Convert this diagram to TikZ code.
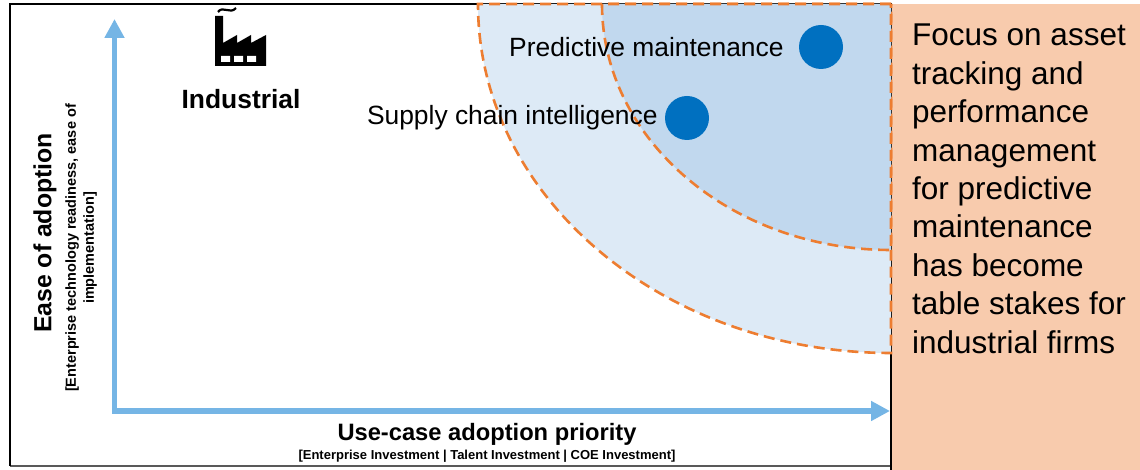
\documentclass[tikz,border=0pt]{standalone}
\usepackage{fontspec}
\setmainfont{Liberation Sans}
\usetikzlibrary{arrows.meta}
\usetikzlibrary{positioning}
\definecolor{axisblue}{RGB}{117,181,229}
\definecolor{dashorange}{RGB}{237,125,49}
\definecolor{outerzone}{RGB}{221,234,246}
\definecolor{innerzone}{RGB}{193,216,238}
\definecolor{dotblue}{RGB}{0,112,192}
\definecolor{panelorange}{RGB}{248,203,173}

\begin{document}
\begin{tikzpicture}[x=1pt,y=1pt,
  zone/.style={draw=dashorange,line width=2.6pt,dash pattern=on 11pt off 6pt},
  usecase/.style={circle,fill=dotblue,minimum size=44pt,inner sep=0pt},
  caselabel/.style={inner sep=0pt,font=\fontsize{26.4}{30}\selectfont},
  axis/.style={draw=axisblue,line width=5.5pt,line join=miter,{Triangle[length=19pt,width=19pt]}-{Triangle[length=19pt,width=19pt]}}]
  \useasboundingbox (0,0) rectangle (1140,470);
  %panel
  \fill[panelorange] (891,0) rectangle (1140,466);
  %frame
  \draw[line width=1.5pt,gray!70!black] (10,4) -- (891,4);
  \draw[line width=1.8pt] (10,4) -- (10,466) -- (891,466) -- (891,0);
  %zones
  \path[zone,fill=outerzone] (891,466) -- (478,466) arc[start angle=180,end angle=270,x radius=413,y radius=349] -- cycle;
  \path[zone,fill=innerzone] (891,466) -- (602,466) arc[start angle=180,end angle=270,x radius=289,y radius=246] -- cycle;
  %use cases
  \node[usecase] (pmdot) at (821,423) {};
  \node[caselabel,left=15pt of pmdot] (pmlabel) {Predictive maintenance};
  \node[usecase] (scdot) at (687,352) {};
  \node[caselabel,left=7pt of scdot] (sclabel) {Supply chain intelligence};
  %factory
  \fill (215,404) -- (215,454) -- (223,454) -- (223,427) -- (237,435) -- (237,427) -- (251,435) -- (251,427) -- (266,435) -- (266,404) -- cycle;
  \fill[white] (221,408) rectangle (230,414) (234,408) rectangle (243,414) (247,408) rectangle (256,414);
  \draw[line width=2.2pt] (218,458) .. controls (223,465) and (230,455) .. (236,462);
  \node[inner sep=0pt,font=\bfseries\fontsize{26.4}{30}\selectfont] (industrial) at (241,371) {Industrial};
  %axes
  \coordinate (origin) at (114.5,59);
  \coordinate (ytip) at (114.5,451);
  \coordinate (xtip) at (890,59);
  \draw[axis] (ytip) -- (origin) -- (xtip);
  \node[rotate=90,inner sep=0pt,font=\bfseries\fontsize{24.8}{28}\selectfont] (ylabel) at (45,237) {Ease of adoption};
  \node[rotate=90,inner sep=0pt,align=center,font=\bfseries\fontsize{14.5}{18}\selectfont] (ysub) at (81,222) {[Enterprise technology readiness, ease of\\implementation]};
  \node[inner sep=0pt,font=\bfseries\fontsize{23.7}{28}\selectfont] (xlabel) at (487,36) {Use-case adoption priority};
  \node[inner sep=0pt,font=\bfseries\fontsize{13}{16}\selectfont] (xsub) at (487,14) {[Enterprise Investment | Talent Investment | COE Investment]};
  %note
  \node[anchor=north west,align=left,inner sep=0pt,font=\fontsize{31.5}{38.4}\selectfont] (focus) at (912,446) {Focus on asset\\tracking and\\performance\\management\\for predictive\\maintenance\\has become\\table stakes for\\industrial firms};
\end{tikzpicture}
\end{document}
